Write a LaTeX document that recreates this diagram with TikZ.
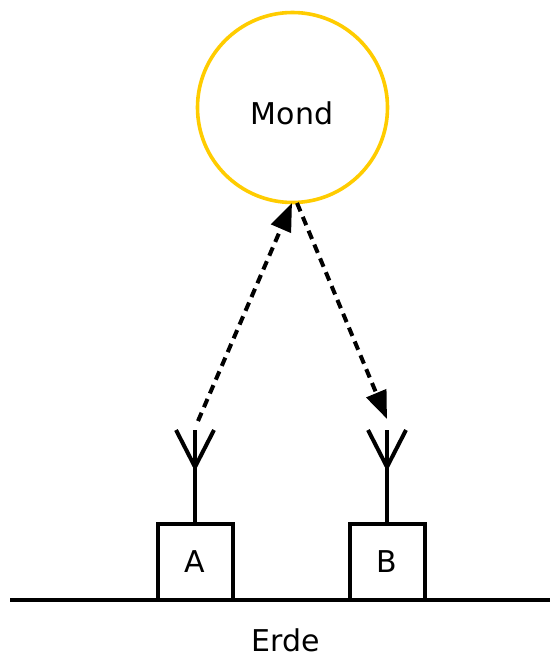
\documentclass[tikz,border=0pt]{standalone}
\usepackage{fontspec}
\setmainfont{DejaVu Sans}
\usetikzlibrary{arrows.meta}
\definecolor{moonyellow}{HTML}{FFCC00}
\tikzset{
  thick line/.style={line width=4.5pt},
  labelfont/.style={font=\fontsize{30}{30}\selectfont},
  boxnode/.style={draw, line width=4pt, minimum width=75pt, minimum height=76pt, inner sep=0pt, labelfont},
  signal/.style={line width=4pt, dash pattern=on 9pt off 6pt, -{Triangle[length=28pt,width=21pt]}},
  antenna/.style={line width=4pt}
}
\begin{document}
\begin{tikzpicture}[x=1pt,y=-1pt]
\useasboundingbox (0,0) rectangle (550,656);
% Moon
\node[draw=moonyellow, line width=3.6pt, circle, minimum size=190pt, inner sep=0pt] (mond) at (292.5,107.5) {};
\node[labelfont] (mondlabel) at (292,113) {Mond};
% Ground
\coordinate (gl) at (10,600);
\coordinate (gr) at (550,600);
\draw[thick line] (gl) -- (gr);
\node[labelfont, anchor=base, inner sep=0pt] (erde) at (286,651) {Erde};
% Stations
\node[boxnode] (A) at (195,562) {A};
\node[boxnode] (B) at (387,562) {B};
% Antenna A
\coordinate (ajA) at (195,467);
\coordinate (atA) at (195,430);
\coordinate (alA) at (176,430);
\coordinate (arA) at (214,430);
\draw[antenna] (A.north) -- (atA);
\draw[antenna] (alA) -- (ajA) -- (arA);
% Antenna B
\coordinate (ajB) at (387,467);
\coordinate (atB) at (387,430);
\coordinate (alB) at (368,430);
\coordinate (arB) at (406,430);
\draw[antenna] (B.north) -- (atB);
\draw[antenna] (alB) -- (ajB) -- (arB);
% Signals
\coordinate (sA) at (198,421);
\coordinate (mA) at (292,203);
\coordinate (mB) at (297,203);
\coordinate (eB) at (387,419);
\draw[signal] (sA) -- (mA);
\draw[signal] (mB) -- (eB);
\end{tikzpicture}
\end{document}
